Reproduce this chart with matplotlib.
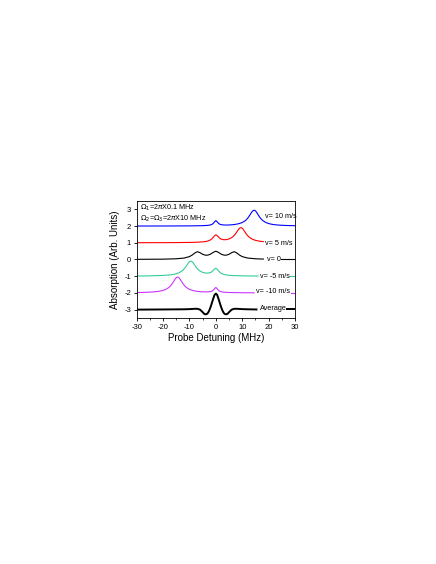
import matplotlib
matplotlib.use("Agg")
import matplotlib.pyplot as plt
from matplotlib.ticker import MultipleLocator

plt.rcParams['font.family'] = ['Liberation Sans', 'DejaVu Sans']
plt.rcParams['axes.unicode_minus'] = False

# ---- data ----
x_v10 = [-30, -20, -10, -5, -3, -2, -1.5, -1, -0.5, 0, 0.5, 1, 1.5, 2, 3, 4, 5, 6, 7, 8, 9, 10,
         11, 11.5, 12, 12.5, 13, 13.5, 14, 14.5, 15, 15.5, 16, 16.5, 17, 17.5, 18, 19, 20, 21, 22,
         24, 26, 28, 30]
y_v10 = [2.003, 2.005, 2.012, 2.024, 2.043, 2.07, 2.10, 2.157, 2.253, 2.326, 2.257, 2.163, 2.111,
         2.085, 2.065, 2.062, 2.066, 2.076, 2.092, 2.119, 2.157, 2.213, 2.306, 2.373, 2.458, 2.562,
         2.684, 2.811, 2.912, 2.952, 2.912, 2.81, 2.683, 2.561, 2.456, 2.371, 2.304, 2.21, 2.152,
         2.114, 2.087, 2.057, 2.04, 2.029, 2.023]

x_v5 = [-30, -20, -15, -10, -7, -5, -4, -3, -2, -1.5, -1, -0.5, 0, 0.5, 1, 1.5, 2, 3, 4, 5, 6,
        6.5, 7, 7.5, 8, 8.5, 9, 9.5, 10, 10.5, 11, 11.5, 12, 12.5, 13, 14, 15, 16, 17, 18]
y_v5 = [1.004, 1.008, 1.012, 1.022, 1.035, 1.055, 1.074, 1.107, 1.176, 1.24, 1.32, 1.42, 1.474,
        1.432, 1.345, 1.27, 1.222, 1.183, 1.19, 1.23, 1.31, 1.37, 1.448, 1.545, 1.66, 1.778, 1.873,
        1.909, 1.871, 1.775, 1.654, 1.537, 1.438, 1.357, 1.294, 1.204, 1.148, 1.11, 1.086, 1.07]

x_v0 = [-30, -20, -15, -12, -10, -9, -8, -7, -6, -5, -4, -3.5, -3, -2, -1, 0, 1, 2, 3, 3.5, 4,
        5, 6, 7, 8, 9, 10, 12, 15, 18]
y_v0 = [0.01, 0.02, 0.043, 0.087, 0.173, 0.262, 0.386, 0.468, 0.41, 0.312, 0.261, 0.256, 0.264,
        0.322, 0.428, 0.496, 0.428, 0.322, 0.264, 0.256, 0.261, 0.312, 0.41, 0.468, 0.386, 0.262,
        0.173, 0.087, 0.043, 0.025]
x_v0_tail = [24.8, 30]
y_v0_tail = [0.01, 0.01]

x_vm5 = [-30, -25, -20, -18, -17, -16, -15, -14, -13, -12.5, -12, -11.5, -11, -10.5, -10, -9.5,
         -9, -8.5, -8, -7.5, -7, -6.5, -6, -5, -4, -3, -2, -1.5, -1, -0.5, 0, 0.5, 1, 1.5, 2, 3,
         4, 5, 7, 10, 16]
y_vm5 = [-0.987, -0.978, -0.953, -0.93, -0.914, -0.89, -0.852, -0.796, -0.706, -0.643, -0.562,
         -0.463, -0.346, -0.225, -0.129, -0.091, -0.127, -0.222, -0.34, -0.455, -0.552, -0.63,
         -0.69, -0.77, -0.81, -0.817, -0.778, -0.73, -0.655, -0.568, -0.526, -0.58, -0.68, -0.76,
         -0.824, -0.893, -0.926, -0.945, -0.965, -0.978, -0.99]
x_vm5_tail = [28.2, 30]
y_vm5_tail = [-0.992, -0.992]

x_vm10 = [-30, -28, -26, -24, -22, -21, -20, -19, -18, -17.5, -17, -16.5, -16, -15.5, -15,
          -14.5, -14, -13.5, -13, -12.5, -12, -11.5, -11, -10, -9, -8, -7, -6, -5, -4, -3, -2,
          -1.5, -1, -0.5, 0, 0.5, 1, 1.5, 2, 3, 5, 10, 14.5]
y_vm10 = [-1.977, -1.971, -1.96, -1.943, -1.913, -1.886, -1.848, -1.79, -1.696, -1.629, -1.544,
          -1.439, -1.317, -1.19, -1.088, -1.048, -1.088, -1.189, -1.316, -1.438, -1.542, -1.627,
          -1.694, -1.787, -1.843, -1.881, -1.908, -1.924, -1.934, -1.938, -1.935, -1.915, -1.889,
          -1.837, -1.743, -1.674, -1.747, -1.843, -1.90, -1.93, -1.957, -1.976, -1.988, -1.994]
x_vm10_tail = [28.4, 30]
y_vm10_tail = [-1.996, -1.996]

x_avg = [-30, -20, -12, -10, -9, -8, -7, -6, -5, -4.5, -4, -3.5, -3, -2.5, -2, -1.5, -1, -0.5,
         0, 0.5, 1, 1.5, 2, 2.5, 3, 3.5, 4, 4.5, 5, 6, 7, 8, 9, 10, 12, 15.4]
y_avg = [-3.0, -2.99, -2.98, -2.97, -2.96, -2.95, -2.95, -3.0, -3.15, -3.24, -3.28, -3.27, -3.2,
         -3.05, -2.85, -2.6, -2.35, -2.12, -2.04, -2.12, -2.35, -2.6, -2.85, -3.05, -3.2, -3.27,
         -3.28, -3.24, -3.15, -3.0, -2.95, -2.95, -2.96, -2.97, -2.98, -2.99]
x_avg_tail = [27.0, 30]
y_avg_tail = [-2.99, -2.99]

labels = ["v= 10 m/s", "v= 5 m/s", "v= 0", "v= -5 m/s", "v= -10 m/s", "Average"]
label_x = [18.6, 18.8, 19.2, 16.8, 15.4, 16.8]
label_y = [2.6, 0.97, 0.0, -1.02, -1.93, -2.95]

# ---- figure ----
fig = plt.figure(figsize=(4.36, 5.64), dpi=100)
ax = fig.add_axes([0.3135, 0.4362, 0.3631, 0.2074])

c_blue, c_red, c_blk, c_grn, c_mag = '#0000ff', '#ff0000', '#000000', '#33cc99', '#cc33ff'
lw = 0.8
ax.plot(x_v10, y_v10, color=c_blue, lw=lw)
ax.plot(x_v5, y_v5, color=c_red, lw=lw)
ax.plot(x_v0, y_v0, color=c_blk, lw=lw)
ax.plot(x_v0_tail, y_v0_tail, color=c_blk, lw=lw)
ax.plot(x_vm5, y_vm5, color=c_grn, lw=lw)
ax.plot(x_vm5_tail, y_vm5_tail, color=c_grn, lw=lw)
ax.plot(x_vm10, y_vm10, color=c_mag, lw=lw)
ax.plot(x_vm10_tail, y_vm10_tail, color=c_mag, lw=lw)
ax.plot(x_avg, y_avg, color=c_blk, lw=1.4)
ax.plot(x_avg_tail, y_avg_tail, color=c_blk, lw=1.4)

for t, lx, ly in zip(labels, label_x, label_y):
    ax.text(lx, ly, t, fontsize=5.2, va='center', ha='left')

ax.text(-28.8, 3.08, r'$\Omega_1$=2$\pi$X0.1 MHz', fontsize=5.2, va='center', ha='left')
ax.text(-28.8, 2.45, r'$\Omega_2$=$\Omega_3$=2$\pi$X10 MHz', fontsize=5.2, va='center', ha='left')

ax.set_xlim(-30, 30)
ax.set_ylim(-3.5, 3.5)
ax.xaxis.set_major_locator(MultipleLocator(10))
ax.xaxis.set_minor_locator(MultipleLocator(5))
ax.yaxis.set_major_locator(MultipleLocator(1))
ax.tick_params(which='major', direction='out', length=2.5, width=0.6, labelsize=5.5, pad=1.5)
ax.tick_params(which='minor', direction='out', length=1.5, width=0.5)
for s in ax.spines.values():
    s.set_linewidth(0.6)

ax.set_xlabel('Probe Detuning (MHz)', fontsize=7, labelpad=2)
ax.set_ylabel('Absorption (Arb. Units)', fontsize=7, labelpad=3)

fig.savefig('out.png', dpi=100)
